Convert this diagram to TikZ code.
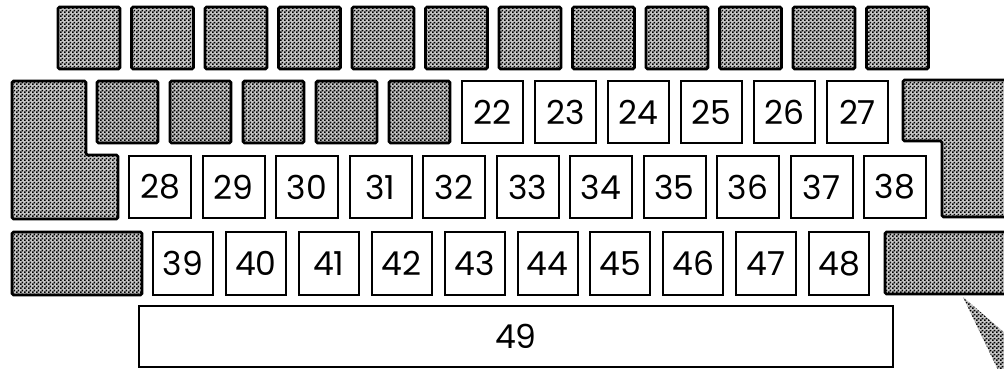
\documentclass[tikz,border=0pt]{standalone}
\usepackage{fontspec}
\setmainfont{Poppins}
\usetikzlibrary{patterns.meta}
\tikzdeclarepattern{
  name=finechecker,
  type=uncolored,
  bounding box={(0,0) and (4pt,4pt)},
  tile size={(4pt,4pt)},
  code={
    \fill (0,0) rectangle (2pt,2pt);
    \fill (2pt,2pt) rectangle (4pt,4pt);
  }
}
\tikzset{
  shade/.style={fill=gray!45, postaction={pattern=finechecker, pattern color=black}, draw=black, line width=2.6pt, rounded corners=1.5pt},
  shadekey/.style={shade, rectangle, inner sep=0pt, minimum width=62pt, minimum height=62pt},
  numkey/.style={draw=black, fill=white, line width=2pt, rectangle, inner sep=0pt,
     minimum width=61pt, minimum height=62pt, font=\fontsize{33}{33}\selectfont},
}
\begin{document}
\begin{tikzpicture}[x=1pt,y=-1pt]
\clip (0,0) rectangle (1004,368);
\fill[white] (0,0) rectangle (1004,368);
% top row
\foreach \i in {0,...,11} {
  \node[shadekey] (t\i) at ({89+\i*73.5},38) {};
}
% second row shaded
\foreach \i in {0,...,4} {
  \node[shadekey, minimum width=61pt] (s\i) at ({127.5+\i*73},112) {};
}
% second row numbered
\foreach \n [count=\i from 5] in {22,...,27} {
  \node[numkey] (k\n) at ({127.5+\i*73},112) {\raisebox{-3pt}{\n}};
}
% third row
\foreach \n [count=\i from 0] in {28,...,38} {
  \node[numkey, minimum width=62pt] (k\n) at ({160+\i*73.5},187) {\raisebox{-3pt}{\n}};
}
% fourth row
\foreach \n [count=\i from 0] in {39,...,48} {
  \node[numkey, minimum width=60pt, minimum height=63pt] (k\n) at ({183+\i*72.9},263.5) {\raisebox{-3pt}{\n}};
}
% space bar
\node[numkey, minimum width=754pt, minimum height=61pt] (k49) at (516,336.5) {\raisebox{-3pt}{49}};
% left L-shape
\draw[shade] (12,81) -- (86,81) -- (86,155) -- (118,155) -- (118,219) -- (12,219) -- cycle;
% right L-shape
\draw[shade] (903,80) -- (1012,80) -- (1012,217) -- (942,217) -- (942,141) -- (903,141) -- cycle;
% bottom shaded keys
\node[shade, rectangle, inner sep=0pt, minimum width=130pt, minimum height=63pt] (lb) at (77,263.5) {};
\node[shade, rectangle, inner sep=0pt, minimum width=130pt, minimum height=62pt] (rb) at (950,263) {};
% wedge
\fill[fill=gray!45, postaction={pattern=finechecker, pattern color=black}] (963,297) -- (1006,334) -- (1006,370) -- (998,370) -- cycle;
\end{tikzpicture}
\end{document}
